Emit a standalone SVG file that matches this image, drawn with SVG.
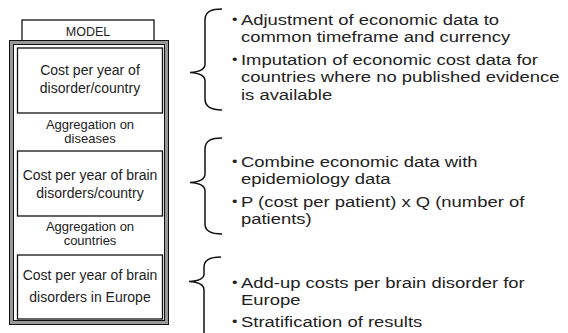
<svg xmlns="http://www.w3.org/2000/svg" width="568" height="333" viewBox="0 0 568 333">
<style>
.box{fill:#fff;stroke:#111;stroke-width:1.3}
.bt{font-family:"Liberation Sans",Arial,sans-serif;font-size:14px;fill:#222;text-anchor:middle}
.agg{font-family:"Liberation Sans",Arial,sans-serif;font-size:13px;fill:#222;text-anchor:middle}
.rt{font-family:"Liberation Sans",Arial,sans-serif;font-size:15.5px;fill:#222}
.bl{font-family:"Liberation Sans",Arial,sans-serif;font-size:13px;fill:#222}
.brace{fill:none;stroke:#111;stroke-width:1.5}
</style>
<rect width="568" height="333" fill="#fff"/>
<g id="model-frame">
<rect x="22" y="20" width="132" height="22" class="box"/>
<text x="88" y="36" class="agg" style="font-size:12.5px">MODEL</text>
<rect x="11" y="42" width="156" height="281" fill="none" stroke="#999" stroke-width="4"/>
<rect x="9.5" y="40.5" width="159" height="284" fill="none" stroke="#111" stroke-width="1"/>
<rect x="13.5" y="44.5" width="151" height="276" fill="none" stroke="#111" stroke-width="1"/>
</g>
<g id="node-disorder-country">
<rect x="17.5" y="48" width="145" height="65" class="box"/>
<text class="bt"><tspan x="90" y="75">Cost per year of</tspan><tspan x="90" y="93">disorder/country</tspan></text>
</g>
<g id="label-aggregation-diseases">
<text class="agg"><tspan x="90" y="129">Aggregation on</tspan><tspan x="90" y="143">diseases</tspan></text>
</g>
<g id="node-brain-disorders-country">
<rect x="17.5" y="151" width="145" height="65" class="box"/>
<text class="bt"><tspan x="90" y="180">Cost per year of brain</tspan><tspan x="90" y="198">disorders/country</tspan></text>
</g>
<g id="label-aggregation-countries">
<text class="agg"><tspan x="90" y="231">Aggregation on</tspan><tspan x="90" y="245">countries</tspan></text>
</g>
<g id="node-brain-disorders-europe">
<rect x="17.5" y="255" width="145" height="64" class="box"/>
<text class="bt"><tspan x="90" y="280">Cost per year of brain</tspan><tspan x="90" y="302">disorders in Europe</tspan></text>
</g>
<g id="connectors">
<path class="brace" d="M222,9 C212,9 205,11 205,20 L205,64 C205,70 199,72 190,72.5 C199,73 205,75 205,81 L205,99 C205,107 212,110 222,110"/>
<path class="brace" d="M222,138 C212,138 205,140 205,149 L205,174 C205,180 199,182 190,182.5 C199,183 205,185 205,191 L205,224 C205,232 212,234 222,234"/>
<path class="brace" d="M221,257 C211,257 204,259 204,267 L204,274 C204,279 198,281 189,281.5 C198,282 204,284 204,290 L204,333"/>
</g>
<g transform="matrix(1.19,0,0,1,-45.79,0)">
<g id="notes-1">
<text x="233.5" y="24" class="bl">•</text>
<text class="rt"><tspan x="241" y="25">Adjustment of economic data to</tspan><tspan x="241" y="42.3">common timeframe and currency</tspan></text>
<text x="233.5" y="64" class="bl">•</text>
<text class="rt"><tspan x="241" y="65">Imputation of economic cost data for</tspan><tspan x="241" y="82.3">countries where no published evidence</tspan><tspan x="241" y="99.6">is available</tspan></text>
</g>
<g id="notes-2">
<text x="233.5" y="166" class="bl">•</text>
<text class="rt"><tspan x="241" y="167">Combine economic data with</tspan><tspan x="241" y="184.3">epidemiology data</tspan></text>
<text x="233.5" y="206" class="bl">•</text>
<text class="rt"><tspan x="241" y="207">P (cost per patient) x Q (number of</tspan><tspan x="241" y="224.3">patients)</tspan></text>
</g>
<g id="notes-3">
<text x="233.5" y="287" class="bl">•</text>
<text class="rt"><tspan x="241" y="288">Add-up costs per brain disorder for</tspan><tspan x="241" y="305.3">Europe</tspan></text>
<text x="233.5" y="326" class="bl">•</text>
<text class="rt"><tspan x="241" y="327">Stratification of results</tspan></text>
</g>
</g>
</svg>
